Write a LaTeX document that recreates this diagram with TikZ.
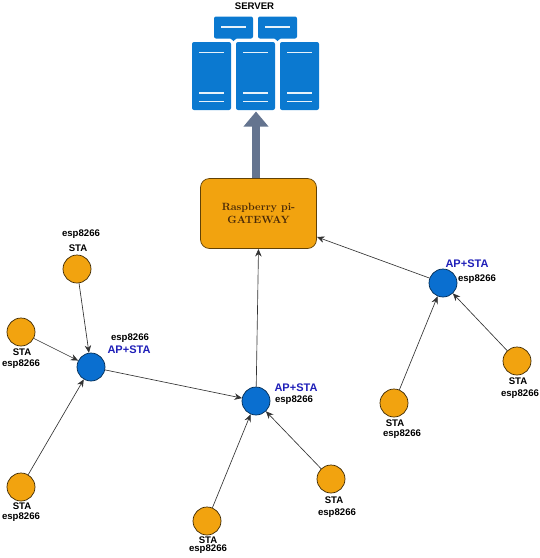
\documentclass[tikz,border=0pt]{standalone}
\usepackage{fontspec}
\setsansfont{Liberation Sans}
\usetikzlibrary{arrows.meta}
\definecolor{stafill}{HTML}{F2A30F}
\definecolor{apfill}{HTML}{0A6FD0}
\definecolor{srvblue}{HTML}{0B79D0}
\definecolor{uplink}{HTML}{64748F}
\definecolor{gwtext}{HTML}{4A2A08}
\definecolor{aptext}{HTML}{1F1FB8}

\begin{document}
\begin{tikzpicture}[x=1pt,y=-1pt,
  sta/.style={circle,draw=black!75!stafill,fill=stafill,line width=0.7pt,minimum size=28pt,inner sep=0pt},
  ap/.style={circle,draw=black!60!apfill,fill=apfill,line width=0.7pt,minimum size=28pt,inner sep=0pt},
  link/.style={draw=black!80,line width=0.65pt,-{Stealth[length=7.5pt,width=6.5pt]}},
  lbl/.style={font=\sffamily\bfseries\fontsize{9.6}{11}\selectfont,inner sep=0pt},
  aplbl/.style={font=\sffamily\bfseries\fontsize{11}{13}\selectfont,text=aptext,inner sep=0pt},
  srvtop/.style={fill=srvblue,rounded corners=2pt,minimum width=39pt,minimum height=22pt,inner sep=0pt},
  srvbig/.style={fill=srvblue,rounded corners=2pt,minimum width=39pt,minimum height=68pt,inner sep=0pt},
  bar/.style={draw=white!90!srvblue,line width=1.6pt}]
  \useasboundingbox (0,0) rectangle (540,558);

  %server
  \node[lbl] (srvtxt) at (254.5,6.5) {SERVER};
  \node[srvtop] (srvA) at (233.5,27.5) {};
  \node[srvtop] (srvB) at (277.5,27.5) {};
  \node[srvbig] (srvC) at (211.5,76) {};
  \node[srvbig] (srvD) at (255.5,76) {};
  \node[srvbig] (srvE) at (299.5,76) {};
  \fill[srvblue] (230,38) -- (237,38) -- (233.5,41) -- cycle;
  \fill[srvblue] (274,38) -- (281,38) -- (277.5,41) -- cycle;
  \draw[bar] (221,27) -- (246,27);
  \draw[bar] (265,27) -- (290,27);
  \foreach \c in {211.5,255.5,299.5}{
    \draw[bar] (\c-12.5,52.5) -- (\c+12.5,52.5);
    \draw[bar] (\c-12.5,93) -- (\c+12.5,93);
    \draw[bar] (\c-12.5,101.5) -- (\c+12.5,101.5);
  }

  %gateway
  \node[draw=black!60!stafill,fill=stafill,line width=0.7pt,rounded corners=9pt,minimum width=116pt,minimum height=70pt,inner sep=0pt,
    align=center,text=gwtext,font=\rmfamily\bfseries\fontsize{10.5}{12.5}\selectfont] (gw) at (258.5,213.5) {Raspberry pi-\\GATEWAY};
  \coordinate (srvtip) at (256,111.5);
  \draw[uplink,line width=8pt,-{Triangle[length=15pt,width=24pt]}] (gw.north -| srvtip) -- (srvtip);

  %stations
  \node[ap] (apL) at (91,367) {};
  \node[ap] (apM) at (256,401) {};
  \node[ap] (apR) at (443,283) {};
  \node[sta] (staA) at (77,269) {};
  \node[sta] (staB) at (21,332) {};
  \node[sta] (staC) at (21,487) {};
  \node[sta] (staD) at (207,521) {};
  \node[sta] (staE) at (331,479) {};
  \node[sta] (staF) at (394,403) {};
  \node[sta] (staG) at (517,361) {};

  %links
  \draw[link] (staA) -- (apL);
  \draw[link] (staB) -- (apL);
  \draw[link] (staC) -- (apL);
  \draw[link] (apL) -- (apM);
  \draw[link] (staD) -- (apM);
  \draw[link] (staE) -- (apM);
  \draw[link] (staF) -- (apR);
  \draw[link] (staG) -- (apR);
  \coordinate (gwM) at (258.5,249);
  \coordinate (gwR) at (317,237);
  \draw[link] (apM) -- (gwM);
  \draw[link] (apR) -- (gwR);

  %labels
  \node[lbl] (tA1) at (81,234) {esp8266};
  \node[lbl] (tA2) at (78,248) {STA};
  \node[lbl] (tB1) at (22,352) {STA};
  \node[lbl] (tB2) at (21,364) {esp8266};
  \node[lbl] (tL1) at (130,338) {esp8266};
  \node[aplbl] (tL2) at (129,350) {AP+STA};
  \node[lbl] (tC1) at (22,506) {STA};
  \node[lbl] (tC2) at (21,517) {esp8266};
  \node[aplbl] (tM1) at (296,388) {AP+STA};
  \node[lbl] (tM2) at (294,400) {esp8266};
  \node[lbl] (tD1) at (208,540.5) {STA};
  \node[lbl] (tD2) at (208,549.5) {esp8266};
  \node[lbl] (tE1) at (334,500) {STA};
  \node[lbl] (tE2) at (337,513) {esp8266};
  \node[aplbl] (tR1) at (467,264) {AP+STA};
  \node[lbl] (tR2) at (477,279) {esp8266};
  \node[lbl] (tF1) at (395,423) {STA};
  \node[lbl] (tF2) at (402,434) {esp8266};
  \node[lbl] (tG1) at (518,381) {STA};
  \node[lbl] (tG2) at (520,394) {esp8266};
\end{tikzpicture}
\end{document}
